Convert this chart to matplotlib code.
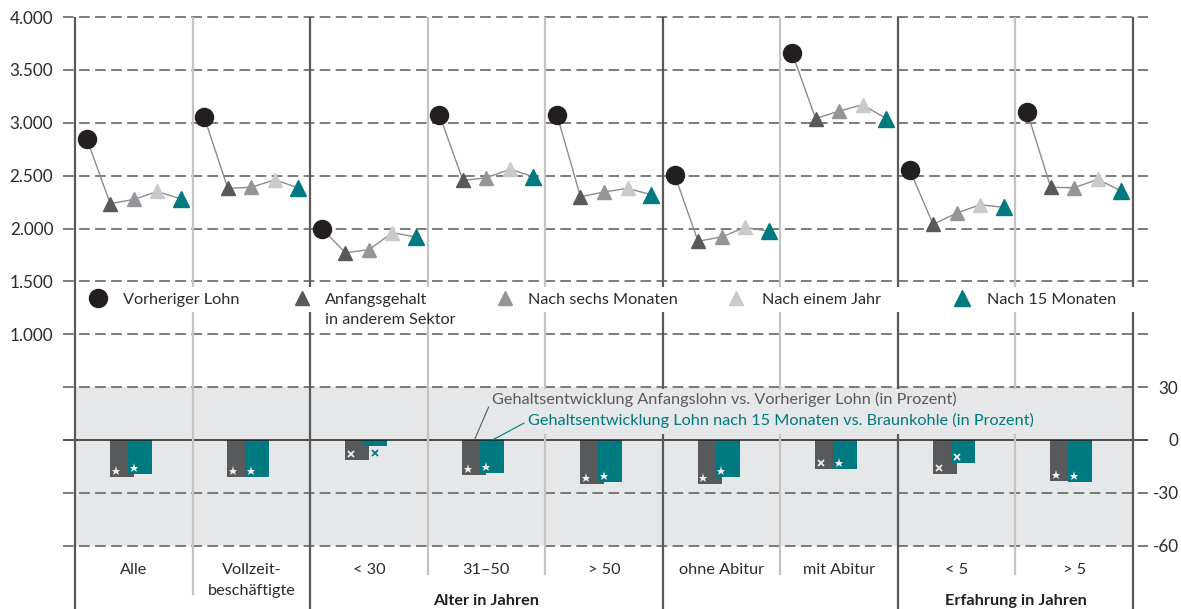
import matplotlib.pyplot as plt
from matplotlib.patches import Rectangle
import numpy as np

plt.rcParams['font.family'] = ['Lato', 'DejaVu Sans']

# Daten
categories = ['Alle', 'Vollzeit-\nbeschäftigte', '< 30', '31–50', '> 50',
              'ohne Abitur', 'mit Abitur', '< 5', '> 5']
vorheriger_lohn = [2850, 3050, 2000, 3075, 3075, 2510, 3660, 2555, 3100]
anfangsgehalt = [2235, 2380, 1770, 2455, 2300, 1880, 3040, 2040, 2390]
sechs_monate = [2275, 2390, 1800, 2480, 2345, 1920, 3110, 2145, 2385]
ein_jahr = [2350, 2460, 1960, 2560, 2380, 2010, 3170, 2225, 2465]
monate_15 = [2280, 2385, 1920, 2490, 2320, 1975, 3040, 2200, 2355]

diff_anfang = [-21, -21, -11.5, -20, -25, -25, -16.5, -19.5, -23]
diff_braunkohle = [-19.5, -21, -3.5, -19, -24, -21, -16.5, -13, -24]
sig_anfang = ['*', '*', 'x', '*', '*', '*', 'x', 'x', '*']
sig_braunkohle = ['*', '*', 'x', '*', '*', '*', '*', 'x', '*']

left_ticks = [1000, 1500, 2000, 2500, 3000, 3500, 4000]
right_ticks = [30, 0, -30, -60]
group_edges = [0, 2, 5, 7, 9]       # dunkle Trennlinien
inner_edges = [1, 3, 4, 6, 8]       # helle Trennlinien
groups = [(2, 5, 'Alter in Jahren'), (7, 9, 'Erfahrung in Jahren')]

# Farben
c_black = '#231f20'
c_dark = '#58595b'
c_mid = '#939598'
c_light = '#c9cacc'
c_teal = '#007a80'
c_band = '#e6e7e8'
c_text = '#2b2b2b'
fs = 11.7

W, H = 1181, 609
fig = plt.figure(figsize=(W / 100, H / 100), dpi=100)
ax_l, ax_r, ax_t, ax_b = 63, 1148, 10, 609
ax = fig.add_axes([ax_l / W, 0, (ax_r - ax_l) / W, (ax_b - ax_t) / H])
ax2 = ax.twinx()
ax.set_zorder(ax2.get_zorder() + 1)
ax.patch.set_visible(False)

# Skalen (Pixel -> Daten)
x0, cw = 75, (1133 - 75) / 9
ppu = (440 - 17) / 4000
ax.set_xlim((ax_l - x0) / cw, (ax_r - x0) / cw)
ax.set_ylim((440 - ax_b) / ppu, (440 - ax_t) / ppu)
ax2.set_ylim(np.array(ax.get_ylim()) * 30 / 500)

def to_ax(xp, yp):
    return (xp - ax_l) / (ax_r - ax_l), (ax_b - yp) / (ax_b - ax_t)

def y_left(yp):
    return (440 - yp) / ppu

def box(xa, ya, xb, yb, color):
    ax.add_patch(Rectangle(to_ax(xa, yb), (xb - xa) / (ax_r - ax_l),
                           (yb - ya) / (ax_b - ax_t), transform=ax.transAxes,
                           facecolor=color, edgecolor='none', zorder=2))

for a in (ax, ax2):
    for s in a.spines.values():
        s.set_visible(False)
ax.set_xticks([])

ax.set_yticks(left_ticks)
ax.set_yticklabels([f'{v:,}'.replace(',', '.') for v in left_ticks])
ax.tick_params(axis='y', length=0, pad=7, labelsize=12.3, labelcolor=c_text)
ax2.set_yticks(right_ticks)
ax2.set_yticklabels([str(v) for v in right_ticks])
ax2.tick_params(axis='y', length=0, pad=22, labelsize=12.3, labelcolor=c_text)
for lbl in ax2.get_yticklabels():
    lbl.set_horizontalalignment('right')

dash = (0, (7, 3.5))
for v in left_ticks:
    ax.axhline(v, color=c_dark, lw=1.1, ls=dash, zorder=1)

# Grauer Bereich unten
ax2.fill_between([0, 9], -60, 30, color=c_band, lw=0, zorder=0)
for v in [30, -30, -60]:
    ax2.axhline(v, color=c_dark, lw=1.1, ls=dash, zorder=1)
ax2.axhline(0, color=c_black, lw=1.1, zorder=3)

# Trennlinien
ax.vlines(group_edges, ax.get_ylim()[0], 4000, color=c_dark, lw=1.6, zorder=1.5)
inner_bottom = [y_left(595) if e == 1 else y_left(575) for e in inner_edges]
ax.vlines(inner_edges, inner_bottom, 4000, color='#c4c4c4', lw=1.6, zorder=1.5)

# Linien und Punkte
offs = np.array([0.1, 0.3, 0.5, 0.7, 0.9])
series = [vorheriger_lohn, anfangsgehalt, sechs_monate, ein_jahr, monate_15]
for i in range(len(categories)):
    ax.plot(i + offs, [s[i] for s in series], color='#8c8c8c', lw=1.0, zorder=3)
idx = np.arange(len(categories))
ax.plot(idx + offs[0], vorheriger_lohn, 'o', ms=13, color=c_black, zorder=4)
ax.plot(idx + offs[1], anfangsgehalt, '^', ms=9.5, color=c_dark, zorder=4)
ax.plot(idx + offs[2], sechs_monate, '^', ms=9.5, color=c_mid, zorder=4)
ax.plot(idx + offs[3], ein_jahr, '^', ms=9.5, color=c_light, zorder=4)
ax.plot(idx + offs[4], monate_15, '^', ms=11.5, color=c_teal, zorder=4)

# Balken
bw = 0.204
xd = idx + 0.5 - 0.102
xt = idx + 0.5 + 0.051
ax2.bar(xd, diff_anfang, width=bw, color=c_dark, zorder=2)
ax2.bar(xt, diff_braunkohle, width=bw, color=c_teal, zorder=2.1)

def sig_marker(x, v, sig, col):
    if abs(v) < 6:
        mx, my, mc = x, v - 3.8, col
    else:
        mx, my, mc = x - bw / 2 + 0.05, v + 3.4, '#eeeeee'
    if sig == '*':
        ax2.plot(mx, my, marker='*', ms=6.5, color=mc, mew=0, zorder=4)
    else:
        ax2.plot(mx, my, marker='x', ms=5, color=mc, mew=1.3, zorder=4)

for i in idx:
    sig_marker(xd[i], diff_anfang[i], sig_anfang[i], c_dark)
    sig_marker(xt[i], diff_braunkohle[i], sig_braunkohle[i], c_teal)

# Beschriftung Balken (Hintergrund verdeckt die Trennlinien)
box(488, 389, 1036, 434, c_band)
ax.annotate('Gehaltsentwicklung Anfangslohn vs. Vorheriger Lohn (in Prozent)',
            xy=(xd[3], 0), xytext=((492 - x0) / cw, 23.2),
            xycoords=ax2.transData, textcoords=ax2.transData, color=c_dark,
            fontsize=fs, ha='left', va='center', zorder=5,
            arrowprops=dict(arrowstyle='-', color=c_dark, lw=0.8,
                            relpos=(0, 0.5), shrinkA=1, shrinkB=0))
ax.annotate('Gehaltsentwicklung Lohn nach 15 Monaten vs. Braunkohle (in Prozent)',
            xy=(xt[3], 0), xytext=((528 - x0) / cw, 10.8),
            xycoords=ax2.transData, textcoords=ax2.transData, color=c_teal,
            fontsize=fs, ha='left', va='center', zorder=5,
            arrowprops=dict(arrowstyle='-', color=c_teal, lw=0.8,
                            relpos=(0, 0.5), shrinkA=1, shrinkB=0))

# Legende
box(80, 287, 1140, 312, 'white')
legend_items = [
    (98, 123, 'o', 13, c_black, 'Vorheriger Lohn'),
    (302, 325, '^', 9.5, c_dark, 'Anfangsgehalt\nin anderem Sektor'),
    (505, 528, '^', 9.5, c_mid, 'Nach sechs Monaten'),
    (736, 762, '^', 9.5, c_light, 'Nach einem Jahr'),
    (962, 987, '^', 11.5, c_teal, 'Nach 15 Monaten'),
]
for mx, tx, m, ms, col, lab in legend_items:
    mxa, mya = to_ax(mx, 298)
    ax.plot([mxa], [mya], marker=m, ms=ms, color=col, transform=ax.transAxes,
            clip_on=False, zorder=4)
    for k, line in enumerate(lab.split('\n')):
        txa, tya = to_ax(tx, 304 + 20 * k)
        ax.text(txa, tya, line, transform=ax.transAxes, fontsize=fs,
                color=c_text, ha='left', va='baseline', zorder=4)

# Kategorien unten
for i, cat in enumerate(categories):
    for k, line in enumerate(cat.split('\n')):
        ax.text(i + 0.5, y_left(574 + 21 * k), line, ha='center',
                va='baseline', fontsize=fs, color=c_text)
for a, b, lab in groups:
    ax.text((a + b) / 2, y_left(605), lab, ha='center', va='baseline',
            fontsize=fs, fontweight='bold', color=c_black)

plt.savefig('out.png', dpi=100)
